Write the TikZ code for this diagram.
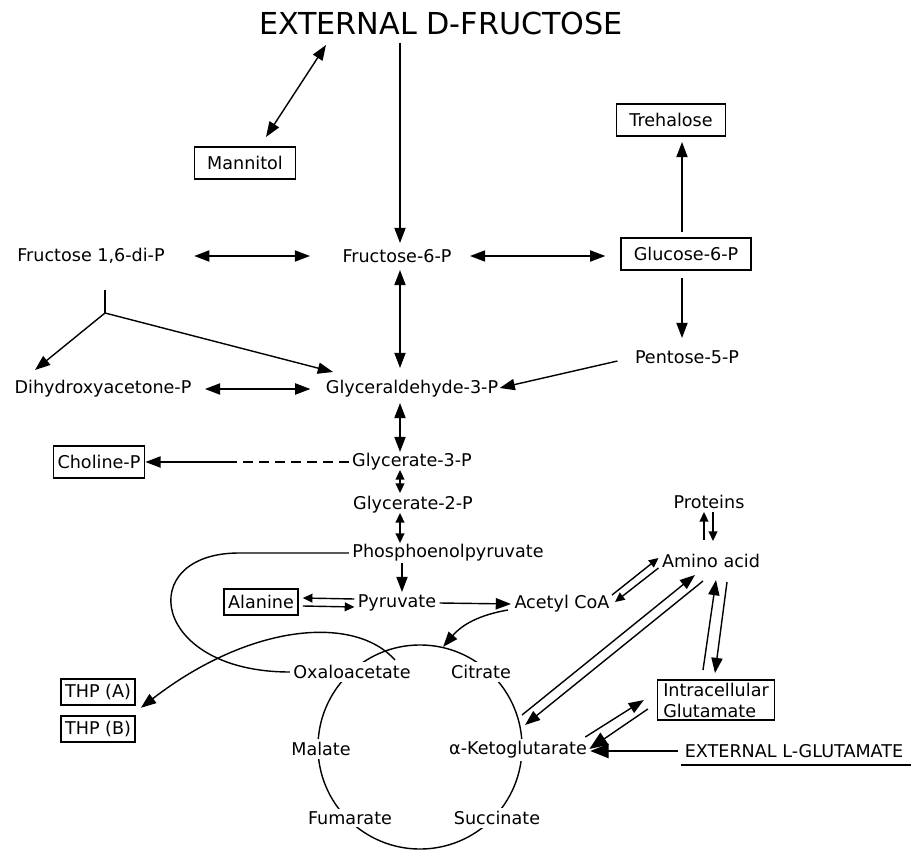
\documentclass[tikz,border=0pt]{standalone}
\usepackage{fontspec}
\setmainfont{DejaVu Sans}
\usetikzlibrary{positioning}
\usetikzlibrary{arrows.meta}

\begin{document}
\begin{tikzpicture}[x=0.025cm,y=0.025cm,>={Triangle[length=3.8mm,width=2.8mm]},
                line width=1pt,font=\fontsize{12.5}{15}\selectfont,
                met/.style={inner sep=2pt},
                cyc/.style={met,fill=white},
                title node/.style={inner sep=0pt,font=\fontsize{21.5}{24}\selectfont},
                box node/.style={draw,line width=1.1pt,inner xsep=3pt,inner ysep=2pt,minimum height=8mm},
                wide/.style={inner xsep=9pt},
                tight/.style={minimum height=6.5mm,inner ysep=1pt},
                small tips/.style={>={Triangle[length=2.4mm,width=2.2mm]}},
                big tips/.style={>={Triangle[length=4.6mm,width=3.6mm]}}]

  \useasboundingbox (0,0) rectangle (919,850);

  % citric acid ring, the labels cut it
  \node[draw,circle,line width=1pt,minimum size=5.1cm] (tca) at (420,103) {};

  \node[title node] (ext) at (441,826) {EXTERNAL D-FRUCTOSE};
  \node[box node,wide] (mannit) at (245,687) {Mannitol};
  \node[box node,wide] (treh) at (671,730) {Trehalose};
  \node[met] (f16) at (91,594) {Fructose 1,6-di-P};
  \node[met] (f6p) at (397,594) {Fructose-6-P};
  \node[box node,wide] (g6p) at (686,596) {Glucose-6-P};
  \node[met] (pent) at (687,493) {Pentose-5-P};
  \node[met] (dhap) at (103,461) {Dihydroxyacetone-P};
  \node[met] (gap) at (412,461) {Glyceraldehyde-3-P};
  \node[box node] (chol) at (99,388) {Choline-P};
  \node[met] (g3p) at (412,388) {Glycerate-3-P};
  \node[met] (g2p) at (413,345) {Glycerate-2-P};
  \node[met] (pep) at (448,297) {Phosphoenolpyruvate};
  \node[box node,tight] (ala) at (261,248) {Alanine};
  \node[met] (pyr) at (397,247) {Pyruvate};
  \node[met] (acoa) at (562,246) {Acetyl CoA};
  \node[met] (prot) at (709,348) {Proteins};
  \node[met] (amino) at (711,289) {Amino acid};
  \node[cyc] (oaa) at (352,178) {Oxaloacetate};
  \node[cyc] (cit) at (481,178) {Citrate};
  \node[cyc] (mal) at (321,101) {Malate};
  \node[cyc] (akg) at (518,100) {α-Ketoglutarate};
  \node[cyc] (fum) at (350,32) {Fumarate};
  \node[cyc] (suc) at (497,32) {Succinate};
  \node[box node,tight] (thpa) at (98,158) {THP (A)};
  \node[box node,tight] (thpb) at (98,121) {THP (B)};
  \node[box node,align=left,inner xsep=4pt] (iglu) at (716,150) {Intracellular\\Glutamate};
  \node[met] (extglu) at (794,99) {EXTERNAL L-GLUTAMATE};

  \coordinate (split) at (105,537);
  \coordinate (cdash) at (228,388);

  \path
    ([shift={(-115,-21)}]ext.center) edge [<->] ([shift={(21,26)}]mannit.center)
    ([shift={(-41,-19)}]ext.center) edge [->] ([shift={(3,13)}]f6p.center)
    ([shift={(26,0)}]f16.east) edge [<->] ([shift={(-29,0)}]f6p.west)
    ([shift={(15,0)}]f6p.east) edge [<->] ([shift={(-15,-2)}]g6p.west)
    ([shift={(-4,22)}]g6p.center) edge [->] ([shift={(11,-22)}]treh.center)
    ([shift={(-4,-24)}]g6p.center) edge [->] ([shift={(-5,19)}]pent.center)
    ([shift={(3,-14)}]f6p.center) edge [<->] ([shift={(-12,21)}]gap.center)
    ([shift={(14,-34)}]f16.center) edge (split)
    (split) edge [->] ([shift={(-68,19)}]dhap.center)
    (split) edge [->] ([shift={(-79,17)}]gap.center)
    ([shift={(10,0)}]dhap.east) edge [<->] ([shift={(-12,0)}]gap.west)
    ([shift={(-14,-4)}]pent.west) edge [->] ([shift={(-2,1)}]gap.east)
    ([shift={(-12,-14)}]gap.center) edge [<->] ([shift={(-12,10)}]g3p.center)
    (g3p.west) edge [dash pattern=on 2.5mm off 1.5mm] (cdash)
    (cdash) edge [->] (chol.east)
    ([shift={(-12,-8)}]g3p.center) edge [<->,small tips] ([shift={(-13,12)}]g2p.center)
    ([shift={(-13,-8)}]g2p.center) edge [<->,small tips] ([shift={(-48,10)}]pep.center)
    ([shift={(-46,-10)}]pep.center) edge [->] ([shift={(5,11)}]pyr.center)
    ([shift={(0,4)}]pyr.west) edge [->,small tips] ([shift={(4,4)}]ala.east)
    ([shift={(4,-4)}]ala.east) edge [->,small tips] ([shift={(0,-4)}]pyr.west)
    (pyr.east) edge [->] (acoa.west)
    ([shift={(-3,-6)}]acoa.west) edge [->,bend right=20] (tca.77)
    ([shift={(-1,9)}]acoa.east) edge [->,small tips] ([shift={(0,3)}]amino.west)
    ([shift={(0,-7)}]amino.west) edge [->,small tips] ([shift={(2,2)}]acoa.east)
    ([shift={(-7,21)}]amino.center) edge [->,small tips] ([shift={(-5,-10)}]prot.center)
    ([shift={(4,-10)}]prot.center) edge [->,small tips] ([shift={(2,20)}]amino.center)
    ([shift={(102,32)}]tca.center) edge [->] ([shift={(-16,-14)}]amino.center)
    ([shift={(-8,-20)}]amino.center) edge [->] ([shift={(105,22)}]tca.center)
    ([shift={(-13,9)}]iglu.north) edge [->] ([shift={(5,-19)}]amino.center)
    ([shift={(16,-21)}]amino.center) edge [->] ([shift={(-1,6)}]iglu.north)
    ([shift={(-5,13)}]akg.east) edge [->] ([shift={(-13,0)}]iglu.west)
    ([shift={(-9,-9)}]iglu.west) edge [->,big tips] ([shift={(-1,1)}]akg.east)
    ([shift={(-3,0)}]extglu.west) edge [->,big tips] ([shift={(0,-1)}]akg.east);

  % side routes out of the ring
  \draw (pep.west) -- ++(-110,0) .. controls +(-105,0) and +(-140,0) .. (oaa.west);
  \draw[->] ([shift={(43,12)}]oaa.center) .. controls +(-40,45) and +(110,85) .. ([shift={(5,-2)}]thpa.south east);
  \draw ([shift={(0,-4)}]extglu.south west) -- ([shift={(4,-4)}]extglu.south east);

\end{tikzpicture}
\end{document}
